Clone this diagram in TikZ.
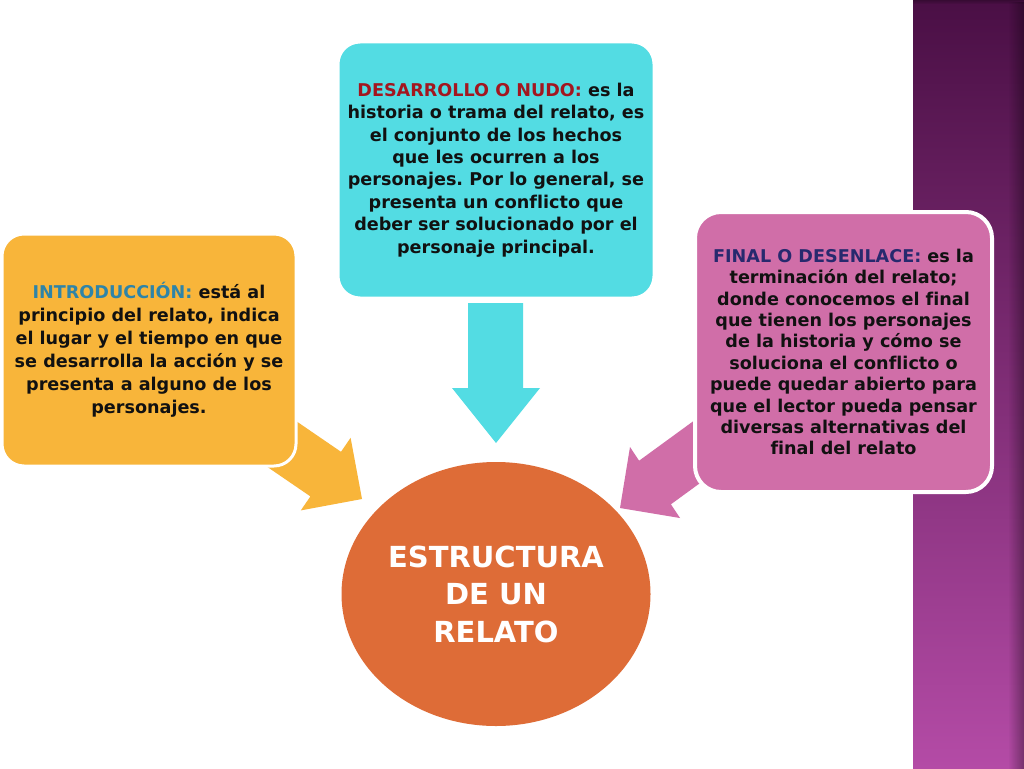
\documentclass[tikz,border=0pt]{standalone}
\usepackage{fontspec}
\setmainfont[Ligatures=NoCommon]{DejaVu Sans}
\usetikzlibrary{shapes.geometric,fadings}
\definecolor{boxorange}{HTML}{F8B53A}
\definecolor{boxcyan}{HTML}{53DCE3}
\definecolor{boxpink}{HTML}{D06EA8}
\definecolor{ellorange}{HTML}{DE6C37}
\definecolor{introblue}{HTML}{2E84A8}
\definecolor{nudored}{HTML}{A3161F}
\definecolor{finalnavy}{HTML}{27296E}
\definecolor{striptop}{HTML}{4A0F45}
\definecolor{stripbot}{HTML}{B44BA6}
\definecolor{txtblack}{HTML}{111111}
\tikzset{
  infobox/.style={draw=white, line width=3pt, rounded corners=22pt, align=center,
    font=\bfseries\fontsize{17.6}{23}\selectfont, text=txtblack, inner sep=0pt},
  blockarrow/.style={draw=none},
}
\begin{document}
\frenchspacing
\begin{tikzpicture}[x=1pt,y=-1pt]
\useasboundingbox (0,0) rectangle (1024,768);
\fill[white] (0,0) rectangle (1024,768);
% purple strip
\shade[top color=striptop, bottom color=stripbot] (913,0) rectangle (1024,768);
\fill[black, opacity=0.35, path fading=west] (1008,0) rectangle (1024,768);
\fill[black, opacity=0.25, path fading=south] (913,0) rectangle (1024,4);

% block arrows (drawn beneath the boxes)
\fill[blockarrow, fill=boxorange] (266.8,401) -- (341.0,451.8) -- (350.6,437.8) -- (362,499)
  -- (300.8,510.4) -- (310.4,496.4) -- (236.2,445.6) -- cycle;
\fill[blockarrow, fill=boxpink] (711.8,407.7) -- (639.1,460.7) -- (630,447) -- (620,508)
  -- (680,518) -- (670.9,504.3) -- (743.6,451.3) -- cycle;
\fill[blockarrow, fill=boxcyan] (468,303) -- (468,388) -- (452,388) -- (496,443)
  -- (540,388) -- (523,388) -- (523,303) -- cycle;

% boxes
\node[infobox, fill=boxorange, minimum width=294pt, minimum height=232pt] (intro) at (149,350)
  {\textcolor{introblue}{INTRODUCCIÓN:} está al\\ principio del relato, indica\\ el lugar y el tiempo en que\\ se desarrolla la acción y se\\ presenta a alguno de los\\ personajes.};
\node[infobox, fill=boxcyan, minimum width=316pt, minimum height=256pt,
  font=\bfseries\fontsize{17.6}{22.4}\selectfont] (nudo) at (496,170)
  {\textcolor{nudored}{DESARROLLO O NUDO:} es la\\ historia o trama del relato, es\\ el conjunto de los hechos\\ que les ocurren a los\\ personajes. Por lo general, se\\ presenta un conflicto que\\ deber ser solucionado por el\\ personaje principal.};
\node[infobox, fill=boxpink, minimum width=297pt, minimum height=280pt, line width=4pt,
  rounded corners=26pt, font=\bfseries\fontsize{17.6}{21.4}\selectfont] (final) at (843.5,352)
  {\textcolor{finalnavy}{FINAL O DESENLACE:} es la\\ terminación del relato;\\ donde conocemos el final\\ que tienen los personajes\\ de la historia y cómo se\\ soluciona el conflicto o\\ puede quedar abierto para\\ que el lector pueda pensar\\ diversas alternativas del\\ final del relato};

% central ellipse
\node[ellipse, fill=ellorange, minimum width=309pt, minimum height=264pt, align=center,
  text=white, font=\bfseries\fontsize{29}{37.5}\selectfont, inner sep=0pt] (center) at (496,594)
  {ESTRUCTURA\\ DE UN\\ RELATO};
\end{tikzpicture}
\end{document}
